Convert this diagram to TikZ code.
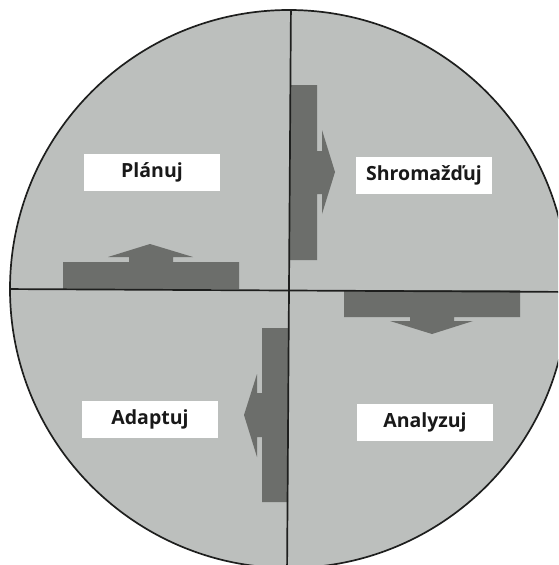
\documentclass[tikz,border=0pt]{standalone}
\usepackage{fontspec}
\newfontfamily\labelfont{Open Sans}[Scale=1.0]
\definecolor{discgray}{HTML}{BCBFBD}
\definecolor{arrowgray}{HTML}{6C6E6B}
\definecolor{linedark}{HTML}{1E1F1E}
\begin{document}
\begin{tikzpicture}[x=1pt,y=-1pt,
  labelbox/.style={fill=white, inner sep=0pt, minimum width=136pt, minimum height=37pt,
    font=\labelfont\bfseries\fontsize{19.5}{22}\selectfont, text=black!90},
  blockarrow/.style={fill=arrowgray, draw=none},
  divider/.style={draw=linedark, line width=1.7pt}]
\useasboundingbox (0,0) rectangle (558,565);
\clip (0,0) rectangle (558,565);
% disc
\fill[discgray] (289,289) circle[radius=279pt];
% block arrows
\fill[blockarrow] (63,289) -- (63,262) -- (129,262) -- (129,257) -- (108,257) -- (150,244) -- (193,257) -- (173,257) -- (173,262) -- (239,262) -- (239,289) -- cycle;
\fill[blockarrow] (290,85) -- (317,85) -- (317,151) -- (322,151) -- (322,130) -- (335,172) -- (322,214) -- (322,194) -- (317,194) -- (317,260) -- (290,260) -- cycle;
\fill[blockarrow] (344,290) -- (520,290) -- (520,317) -- (454,317) -- (454,321) -- (473,321) -- (432,334) -- (390,321) -- (410,321) -- (410,317) -- (344,317) -- cycle;
\fill[blockarrow] (288,328) -- (262,328) -- (262,393) -- (257,393) -- (257,374) -- (244,415) -- (257,457) -- (257,437) -- (262,437) -- (262,502) -- (288,502) -- cycle;
% dividers
\begin{scope}
\clip (289,289) circle[radius=279pt];
\draw[divider] (291,0) -- (287,578);
\draw[divider] (0,289) -- (578,292);
\end{scope}
\draw[linedark, line width=1.7pt] (289,289) circle[radius=279pt];
% labels
\node[labelbox] (plan) at (152,172) {Plánuj};
\node[labelbox] (collect) at (424,175) {Shromažďuj};
\node[labelbox] (adapt) at (150,419) {Adaptuj};
\node[labelbox] (analyze) at (425,422) {Analyzuj};
\end{tikzpicture}
\end{document}
